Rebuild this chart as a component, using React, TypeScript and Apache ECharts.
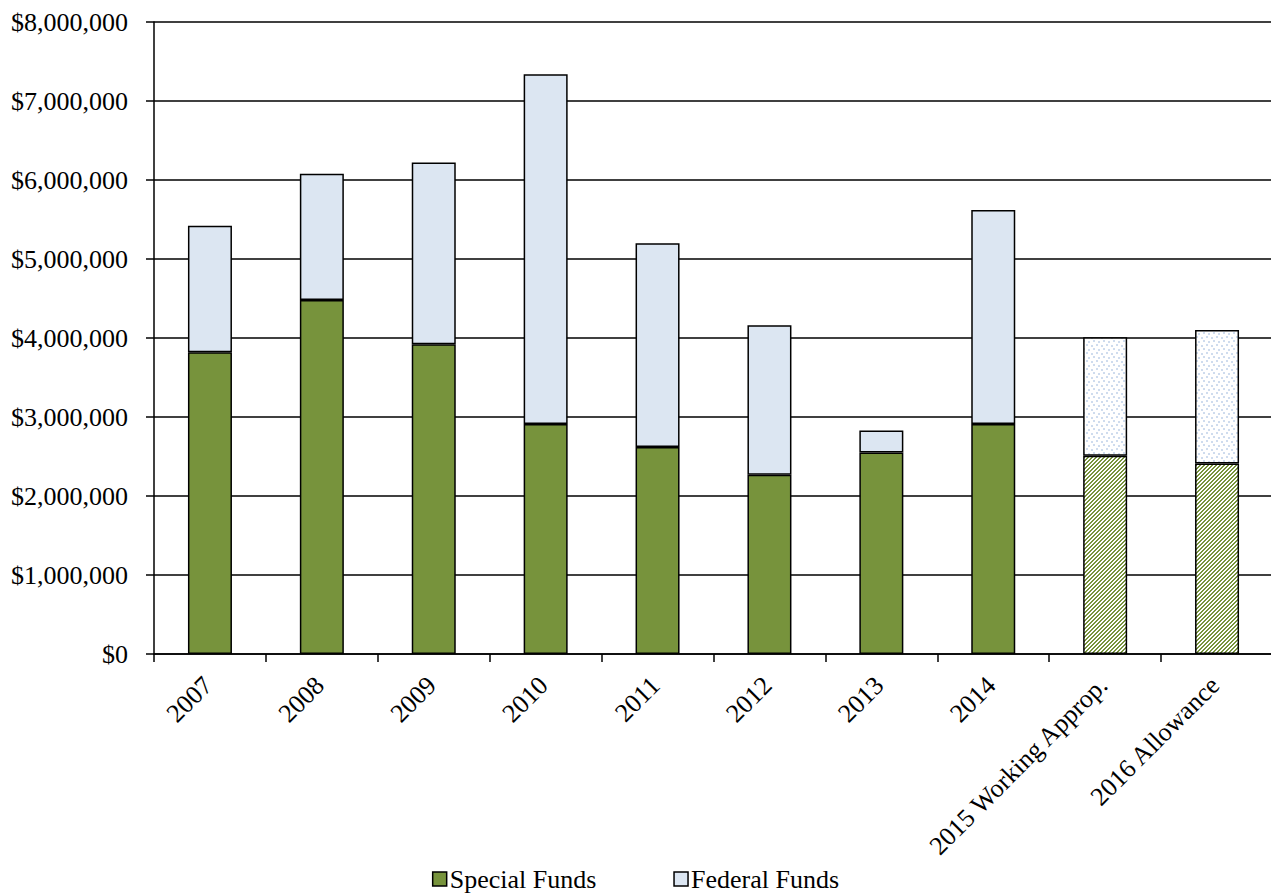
import React, { useEffect, useRef } from "react";
import * as echarts from "echarts";

const categories = [
  "2007",
  "2008",
  "2009",
  "2010",
  "2011",
  "2012",
  "2013",
  "2014",
  "2015 Working Approp.",
  "2016 Allowance",
];
const specialFunds = [3820000, 4480000, 3920000, 2910000, 2620000, 2270000, 2550000, 2910000, 2510000, 2410000];
const federalFunds = [1600000, 1600000, 2300000, 4430000, 2580000, 1890000, 280000, 2710000, 1500000, 1690000];
const projected = [false, false, false, false, false, false, false, false, true, true];

const GREEN = "#77933C";
const BLUE = "#DCE6F2";
const FONT = "'Liberation Serif', 'Times New Roman', serif";

function svgTile(w: number, h: number, bg: string, fg: string, pixels: Array<[number, number, number, number]>) {
  const rects = pixels
    .map(([x, y, pw, ph]) => `<rect x='${x}' y='${y}' width='${pw}' height='${ph}' fill='${fg}'/>`)
    .join("");
  const svg = `<svg xmlns='http://www.w3.org/2000/svg' width='${w}' height='${h}' shape-rendering='crispEdges'><rect width='${w}' height='${h}' fill='${bg}'/>${rects}</svg>`;
  return "data:image/svg+xml;charset=utf-8," + encodeURIComponent(svg);
}

function stripeTile() {
  const px: Array<[number, number, number, number]> = [];
  for (let y = 0; y < 4; y++) {
    for (let x = 0; x < 4; x++) {
      const m = (x + y) % 4;
      if (m === 0 || m === 1) px.push([x, y, 1, 1]);
    }
  }
  return svgTile(4, 4, "#fff", GREEN, px);
}

function dotTile() {
  return svgTile(10, 8, "#fff", "#CFDCEE", [
    [1, 1, 2, 2],
    [6, 0, 2, 2],
    [3, 4, 2, 2],
    [8, 5, 2, 2],
  ]);
}

export default function App() {
  const ref = useRef<HTMLDivElement>(null);

  useEffect(() => {
    document.body.style.margin = "0";
    if (!ref.current) return;
    const chart = echarts.init(ref.current, undefined, { renderer: "svg" });

    const border = { borderColor: "#000", borderWidth: 1.5 };
    const stripePattern = { image: stripeTile(), repeat: "repeat", imageWidth: 4, imageHeight: 4 };
    const dotPattern = { image: dotTile(), repeat: "repeat", imageWidth: 10, imageHeight: 8 };

    const specialData = specialFunds.map((v, i) =>
      projected[i] ? { value: v, itemStyle: { color: stripePattern, ...border } } : { value: v }
    );
    const federalData = federalFunds.map((v, i) =>
      projected[i] ? { value: v, itemStyle: { color: dotPattern, ...border } } : { value: v }
    );

    chart.setOption({
      animation: false,
      textStyle: { fontFamily: FONT },
      grid: {
        left: 154,
        right: -2,
        top: 22,
        bottom: 239,
        outerBoundsMode: "none",
      },
      legend: {
        bottom: -4,
        left: "center",
        itemWidth: 14,
        itemHeight: 14,
        itemGap: 77,
        icon: "rect",
        itemStyle: { borderColor: "#000", borderWidth: 1.5 },
        textStyle: { fontFamily: FONT, fontSize: 26, color: "#000", padding: [0, 0, 0, -2] },
        data: [
          { name: "Special Funds", itemStyle: { color: GREEN, borderColor: "#000", borderWidth: 1.5 } },
          { name: "Federal Funds", itemStyle: { color: BLUE, borderColor: "#000", borderWidth: 1.5 } },
        ],
      },
      xAxis: {
        type: "category",
        data: categories,
        axisLine: { lineStyle: { color: "#000", width: 1.5 } },
        axisTick: { show: true, length: 8, lineStyle: { color: "#000", width: 1.5 } },
        axisLabel: {
          rotate: 45,
          interval: 0,
          margin: 25,
          padding: [0, 3, 0, 0],
          fontFamily: FONT,
          fontSize: 26,
          color: "#000",
        },
      },
      yAxis: {
        type: "value",
        min: 0,
        max: 8000000,
        interval: 1000000,
        axisLine: { show: true, lineStyle: { color: "#000", width: 1.5 } },
        axisTick: { show: true, length: 8, lineStyle: { color: "#000", width: 1.5 } },
        splitLine: { show: true, lineStyle: { color: "#000", width: 1.5 } },
        axisLabel: {
          margin: 26,
          fontFamily: FONT,
          fontSize: 26,
          color: "#000",
          formatter: (v: number) => "$" + v.toLocaleString("en-US"),
        },
      },
      series: [
        {
          name: "Special Funds",
          type: "bar",
          stack: "total",
          barWidth: 44,
          itemStyle: { color: GREEN, ...border },
          data: specialData,
        },
        {
          name: "Federal Funds",
          type: "bar",
          stack: "total",
          barWidth: 44,
          itemStyle: { color: BLUE, ...border },
          data: federalData,
        },
      ],
    });

    return () => chart.dispose();
  }, []);

  return (
    <div
      ref={ref}
      style={{ position: "absolute", left: 0, top: 0, width: 1271, height: 893 }}
    />
  );
}
